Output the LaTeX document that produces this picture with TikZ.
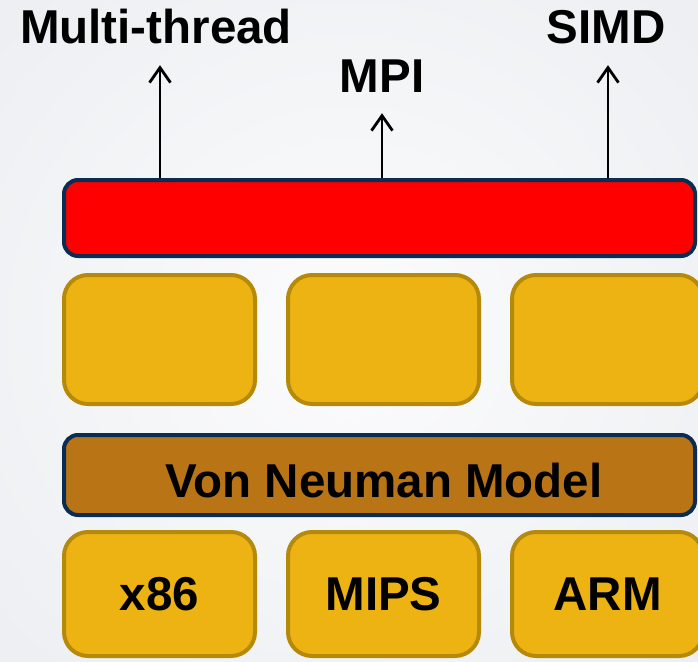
\documentclass[tikz,border=0pt]{standalone}
\usepackage{fontspec}
\setmainfont{Liberation Sans}
\usetikzlibrary{arrows.meta}
\definecolor{bgouter}{HTML}{EDEFF2}
\definecolor{bginner}{HTML}{FCFCFD}
\definecolor{navy}{HTML}{0B2D52}
\definecolor{gold}{HTML}{EDB313}
\definecolor{goldline}{HTML}{B58A0B}
\definecolor{bronze}{HTML}{B97416}
\tikzset{
  layer/.style={draw=navy, line width=4pt, rounded corners=14pt, inner sep=0pt},
  block/.style={draw=goldline, fill=gold, line width=4pt, rounded corners=24pt,
    minimum width=191pt, inner sep=0pt},
  title/.style={font=\bfseries\fontsize{47.5}{52}\selectfont, inner sep=0pt, text depth=0pt},
  uparrow/.style={-{Straight Barb[length=15pt,width=21pt]}, line width=2.8pt, shorten >=21pt},
}
\begin{document}
\begin{tikzpicture}[x=1pt,y=-1pt]
  % page background
  \useasboundingbox (0,0) rectangle (698,661);
  \shade[inner color=bginner, outer color=bgouter] (-120,-120) rectangle (818,781);

  % parallel layer and its three branches
  \node[layer, fill=red, minimum width=631pt, minimum height=76pt] (par) at (379.5,218) {};

  \node[title, anchor=base] (mt)   at (156,44)  {Multi-thread};
  \node[title, anchor=base] (mpi)  at (382,92)  {MPI};
  \node[title, anchor=base] (simd) at (606,44)  {SIMD};

  \coordinate (mtx) at (160,0);
  \coordinate (simdx) at (608,0);
  \draw[uparrow] (par.north -| mtx) -- (mt.south -| mtx);
  \draw[uparrow] (par.north -| mpi.south) -- (mpi.south);
  \draw[uparrow] (par.north -| simdx) -- (simd.south -| simdx);

  % middle row of blocks
  \node[block, minimum height=129pt] (m1) at (159.5,339.5) {};
  \node[block, minimum height=129pt] (m2) at (383.5,339.5) {};
  \node[block, minimum height=129pt] (m3) at (607.5,339.5) {};

  % machine model layer
  \node[layer, fill=bronze, minimum width=631pt, minimum height=80pt] (vn) at (379.5,475) {};
  \node[title, anchor=base] (vntext) at (384,497) {Von Neuman Model};

  % architectures
  \node[block, minimum height=124pt, title] (x86)  at (159.5,594) {x86};
  \node[block, minimum height=124pt, title] (mips) at (383.5,594) {MIPS};
  \node[block, minimum height=124pt, title] (arm)  at (607.5,594) {ARM};
\end{tikzpicture}
\end{document}
